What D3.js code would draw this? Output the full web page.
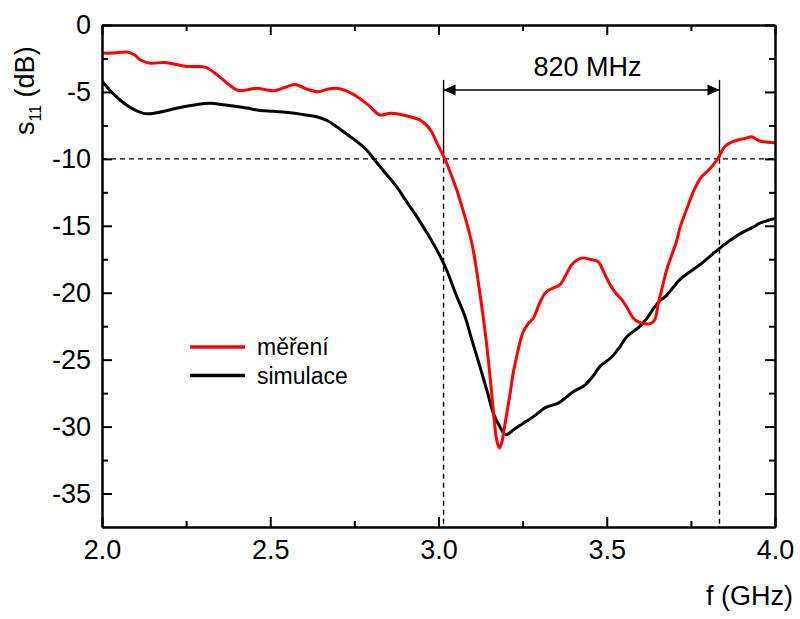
<!DOCTYPE html>
<html>
<head>
<meta charset="utf-8">
<script src="https://cdn.jsdelivr.net/npm/d3@7"></script>
<style>
  body { margin: 0; background: #fff; }
  svg { font-family: "Liberation Sans", Arial, sans-serif; }
</style>
</head>
<body>
<svg id="chart" width="800" height="619"></svg>
<script>
// Measured reflection coefficient (frequency in GHz, s11 in dB)
const measFreq = [2.000, 2.030, 2.073, 2.095, 2.113, 2.143, 2.187, 2.220, 2.252, 2.306, 2.341, 2.370, 2.400, 2.430, 2.460, 2.490, 2.514, 2.545, 2.574, 2.610, 2.643, 2.670, 2.697, 2.730, 2.757, 2.790, 2.826, 2.856, 2.890, 2.915, 2.945, 2.965, 2.980, 2.995, 3.017, 3.035, 3.054, 3.070, 3.084, 3.100, 3.113, 3.125, 3.138, 3.148, 3.158, 3.166, 3.173, 3.181, 3.188, 3.193, 3.203, 3.213, 3.222, 3.232, 3.242, 3.252, 3.267, 3.282, 3.300, 3.318, 3.336, 3.361, 3.380, 3.396, 3.410, 3.426, 3.450, 3.475, 3.490, 3.510, 3.526, 3.544, 3.560, 3.579, 3.595, 3.609, 3.630, 3.643, 3.653, 3.665, 3.678, 3.693, 3.708, 3.718, 3.740, 3.760, 3.780, 3.800, 3.815, 3.832, 3.850, 3.871, 3.896, 3.915, 3.931, 3.945, 3.960, 3.980, 4.000];
const measS11 = [-2.1, -2.1, -2.02, -2.2, -2.6, -2.85, -2.8, -2.95, -3.1, -3.15, -3.7, -4.3, -4.85, -4.85, -4.72, -4.85, -4.9, -4.65, -4.45, -4.8, -4.98, -4.8, -4.73, -4.95, -5.35, -5.95, -6.72, -6.6, -6.7, -6.85, -7.1, -7.5, -8.0, -8.8, -9.9, -11.0, -12.3, -13.6, -14.8, -16.4, -18.3, -20.4, -22.8, -25.0, -27.5, -29.6, -31.0, -31.6, -31.2, -30.5, -29.0, -27.5, -26.0, -24.8, -23.7, -22.9, -22.3, -21.9, -20.8, -20.0, -19.7, -19.4, -18.6, -17.9, -17.6, -17.4, -17.5, -17.7, -18.4, -19.4, -20.0, -20.5, -21.1, -21.9, -22.2, -22.3, -22.3, -22.0, -20.8, -19.6, -18.3, -17.2, -16.1, -15.1, -13.6, -12.3, -11.4, -10.9, -10.5, -9.9, -9.1, -8.75, -8.55, -8.45, -8.35, -8.55, -8.7, -8.75, -8.8];

// Simulated reflection coefficient
const simFreq = [2.000, 2.040, 2.083, 2.123, 2.153, 2.200, 2.242, 2.280, 2.321, 2.360, 2.390, 2.430, 2.460, 2.510, 2.559, 2.600, 2.638, 2.670, 2.697, 2.730, 2.757, 2.785, 2.806, 2.840, 2.876, 2.905, 2.935, 2.965, 2.995, 3.024, 3.050, 3.079, 3.100, 3.123, 3.145, 3.163, 3.180, 3.200, 3.225, 3.252, 3.285, 3.316, 3.356, 3.380, 3.400, 3.435, 3.460, 3.480, 3.515, 3.540, 3.559, 3.599, 3.620, 3.638, 3.658, 3.678, 3.718, 3.777, 3.832, 3.866, 3.896, 3.935, 3.955, 4.000];
const simS11 = [-4.2, -5.3, -6.15, -6.6, -6.6, -6.35, -6.1, -5.95, -5.85, -5.95, -6.05, -6.2, -6.35, -6.45, -6.55, -6.7, -6.85, -7.15, -7.6, -8.2, -8.7, -9.3, -9.95, -11.0, -12.1, -13.2, -14.3, -15.5, -16.8, -18.3, -20.0, -21.8, -23.6, -25.5, -27.4, -29.0, -29.9, -30.6, -30.2, -29.75, -29.2, -28.6, -28.25, -27.8, -27.4, -26.9, -26.2, -25.5, -24.8, -24.0, -23.3, -22.5, -21.9, -21.2, -20.6, -20.2, -19.0, -17.9, -16.75, -16.1, -15.6, -15.1, -14.8, -14.45];

const seriesNames = ["měření", "simulace"];
const seriesColors = ["#ff0000", "#000000"];

// Axis ticks
const xMajorTicks = [2.0, 2.5, 3.0, 3.5, 4.0];
const xMinorTicks = [2.25, 2.75, 3.25, 3.75];
const yMajorTicks = [0, -5, -10, -15, -20, -25, -30, -35];
const yMinorTicks = [-2.5, -7.5, -12.5, -17.5, -22.5, -27.5, -32.5];

// -10 dB bandwidth markers
const threshold = -10;
const bandEdges = [3.015, 3.835];
const bandLabel = "820 MHz";
const arrowLevel = -4.85;
const markerTop = -4.1;

const svg = d3.select("#chart");
const plotLeft = 102, plotRight = 775, plotTop = 25, plotBottom = 527;

const x = d3.scaleLinear().domain([2, 4]).range([plotLeft, plotRight]);
const y = d3.scaleLinear().domain([-37.5, 0]).range([plotBottom, plotTop]);

const fontSize = 27;

// Threshold and band edge guide lines
const guides = svg.append("g").attr("stroke", "#000").attr("stroke-width", 1.4).attr("fill", "none");
guides.append("line")
  .attr("x1", x(2)).attr("x2", x(4))
  .attr("y1", y(threshold)).attr("y2", y(threshold))
  .attr("stroke-dasharray", "5,4");
bandEdges.forEach(f => {
  guides.append("line")
    .attr("x1", x(f)).attr("x2", x(f))
    .attr("y1", y(threshold)).attr("y2", y(-37.5))
    .attr("stroke-dasharray", "5,4");
  guides.append("line")
    .attr("x1", x(f)).attr("x2", x(f))
    .attr("y1", y(markerTop)).attr("y2", y(threshold));
});

// Double-headed arrow for the bandwidth
const defs = svg.append("defs");
["start", "end"].forEach(k => {
  defs.append("marker")
    .attr("id", "arrow-" + k)
    .attr("viewBox", "0 0 12 12")
    .attr("refX", k === "end" ? 12 : 0).attr("refY", 6)
    .attr("markerWidth", 12).attr("markerHeight", 12)
    .attr("markerUnits", "userSpaceOnUse")
    .attr("orient", "auto")
    .append("path")
    .attr("d", k === "end" ? "M0,0.5 L12,6 L0,11.5 Z" : "M12,0.5 L0,6 L12,11.5 Z")
    .attr("fill", "#000");
});
svg.append("line")
  .attr("x1", x(bandEdges[0])).attr("x2", x(bandEdges[1]))
  .attr("y1", y(arrowLevel)).attr("y2", y(arrowLevel))
  .attr("stroke", "#000").attr("stroke-width", 1.4)
  .attr("marker-start", "url(#arrow-start)")
  .attr("marker-end", "url(#arrow-end)");
svg.append("text")
  .attr("x", (x(bandEdges[0]) + x(bandEdges[1])) / 2 + 6)
  .attr("y", 76)
  .attr("text-anchor", "middle")
  .attr("font-size", 27)
  .text(bandLabel);

// Curves
const line = d3.line()
  .x(d => x(d[0])).y(d => y(d[1]))
  .curve(d3.curveCatmullRom.alpha(0.5));

const clip = defs.append("clipPath").attr("id", "plot-clip");
clip.append("rect").attr("x", plotLeft).attr("y", plotTop)
  .attr("width", plotRight - plotLeft).attr("height", plotBottom - plotTop);

const plot = svg.append("g").attr("clip-path", "url(#plot-clip)");
plot.append("path")
  .datum(simFreq.map((f, i) => [f, simS11[i]]))
  .attr("d", line)
  .attr("fill", "none").attr("stroke", seriesColors[1])
  .attr("stroke-width", 3).attr("stroke-linejoin", "round");
plot.append("path")
  .datum(measFreq.map((f, i) => [f, measS11[i]]))
  .attr("d", line)
  .attr("fill", "none").attr("stroke", seriesColors[0])
  .attr("stroke-width", 3).attr("stroke-linejoin", "round");

// Axes with inward ticks on all four sides
function styleAxis(g) {
  g.selectAll("path.domain").attr("stroke", "#000").attr("stroke-width", 2);
  g.selectAll(".tick line").attr("stroke", "#000").attr("stroke-width", 2);
  g.selectAll("text").attr("font-size", fontSize).attr("fill", "#000")
    .attr("font-family", "'Liberation Sans', Arial, sans-serif");
}

svg.append("g").attr("transform", `translate(0,${plotBottom})`)
  .call(d3.axisBottom(x).tickValues(xMajorTicks).tickFormat(d3.format(".1f"))
    .tickSizeInner(-10).tickSizeOuter(0).tickPadding(13))
  .call(styleAxis);
svg.append("g").attr("transform", `translate(0,${plotBottom})`)
  .call(d3.axisBottom(x).tickValues(xMinorTicks).tickFormat("").tickSizeInner(-6).tickSizeOuter(0))
  .call(styleAxis);
svg.append("g").attr("transform", `translate(0,${plotTop})`)
  .call(d3.axisTop(x).tickValues(xMajorTicks).tickFormat("").tickSizeInner(-10).tickSizeOuter(0))
  .call(styleAxis);
svg.append("g").attr("transform", `translate(0,${plotTop})`)
  .call(d3.axisTop(x).tickValues(xMinorTicks).tickFormat("").tickSizeInner(-6).tickSizeOuter(0))
  .call(styleAxis);

svg.append("g").attr("transform", `translate(${plotLeft},0)`)
  .call(d3.axisLeft(y).tickValues(yMajorTicks).tickFormat(d => String(d))
    .tickSizeInner(-10).tickSizeOuter(0).tickPadding(11))
  .call(styleAxis);
svg.append("g").attr("transform", `translate(${plotLeft},0)`)
  .call(d3.axisLeft(y).tickValues(yMinorTicks).tickFormat("").tickSizeInner(-6).tickSizeOuter(0))
  .call(styleAxis);
svg.append("g").attr("transform", `translate(${plotRight},0)`)
  .call(d3.axisRight(y).tickValues(yMajorTicks).tickFormat("").tickSizeInner(-10).tickSizeOuter(0))
  .call(styleAxis);
svg.append("g").attr("transform", `translate(${plotRight},0)`)
  .call(d3.axisRight(y).tickValues(yMinorTicks).tickFormat("").tickSizeInner(-6).tickSizeOuter(0))
  .call(styleAxis);

// Axis titles
svg.append("text")
  .attr("x", 793).attr("y", 605)
  .attr("text-anchor", "end")
  .attr("font-size", fontSize)
  .text("f (GHz)");

const yTitle = svg.append("text")
  .attr("transform", "translate(34,135) rotate(-90)")
  .attr("text-anchor", "start")
  .attr("font-size", fontSize);
yTitle.append("tspan").text("s");
yTitle.append("tspan").attr("font-size", 16).attr("dy", 7).text("11");
yTitle.append("tspan").attr("dy", -7).text(" (dB)");

// Legend
const legend = svg.append("g");
seriesNames.forEach((name, i) => {
  const ly = 347 + i * 28.5;
  legend.append("line")
    .attr("x1", 190).attr("x2", 245)
    .attr("y1", ly).attr("y2", ly)
    .attr("stroke", seriesColors[i]).attr("stroke-width", 3.5);
  legend.append("text")
    .attr("x", 257).attr("y", ly + 8)
    .attr("font-size", 23)
    .text(name);
});
</script>
</body>
</html>
